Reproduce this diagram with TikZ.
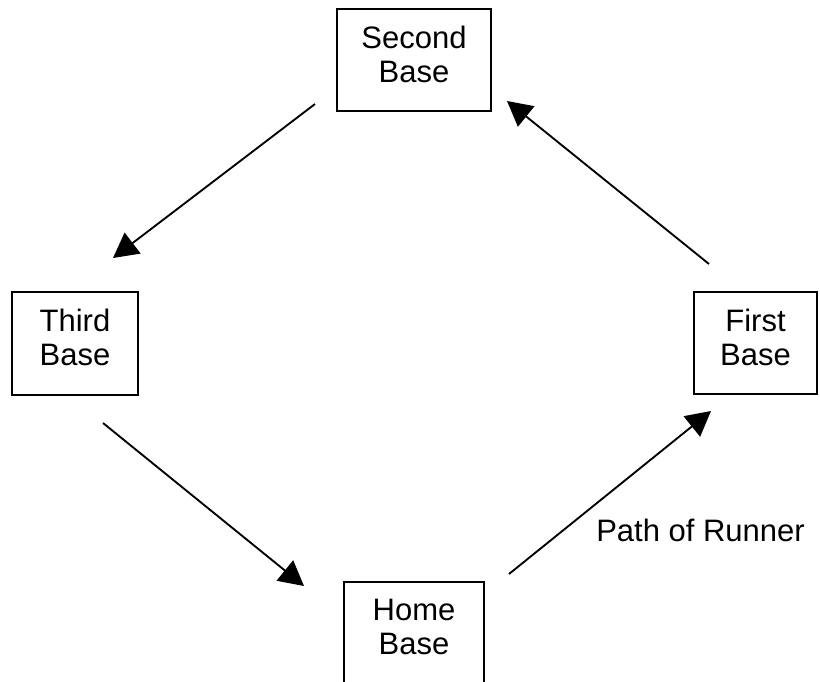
\documentclass[tikz,border=0pt]{standalone}
\usepackage{fontspec}
\setmainfont{Liberation Sans}
\usetikzlibrary{arrows.meta}
\begin{document}
\begin{tikzpicture}[x=0.75pt,y=-0.75pt,
  base/.style={draw=black,line width=1.1pt,rectangle,align=center,inner sep=0pt,
    font=\fontsize{23.25pt}{25.5pt}\selectfont,text depth=9pt},
  runner/.style={line width=1.4pt,-{Triangle[length=18.5pt,width=19.5pt]}},
  lbl/.style={font=\fontsize{23.25pt}{25.5pt}\selectfont,inner sep=0pt}]
\useasboundingbox (0,0) rectangle (820,681);
\clip (0,0) rectangle (820,681);
\node[base,minimum width=115.5pt,minimum height=76.5pt] (second) at (414,60) {Second\\Base};
\node[base,minimum width=94.5pt,minimum height=77pt] (third) at (75,343.5) {Third\\Base};
\node[base,minimum width=92pt,minimum height=76.5pt] (first) at (755.5,343) {First\\Base};
\node[base,minimum width=105pt,minimum height=76.5pt] (home) at (414,633) {Home\\Base};
\node[lbl,anchor=base west] (path) at (596,541) {Path of Runner};
\coordinate (s1) at (315,104); \coordinate (t1) at (113,258);
\coordinate (s2) at (103,423); \coordinate (t2) at (304,586);
\coordinate (s3) at (509,574); \coordinate (t3) at (711,411);
\coordinate (s4) at (709,264); \coordinate (t4) at (507,101);
\draw[runner] (s1) -- (t1);
\draw[runner] (s2) -- (t2);
\draw[runner] (s3) -- (t3);
\draw[runner] (s4) -- (t4);
\end{tikzpicture}
\end{document}
